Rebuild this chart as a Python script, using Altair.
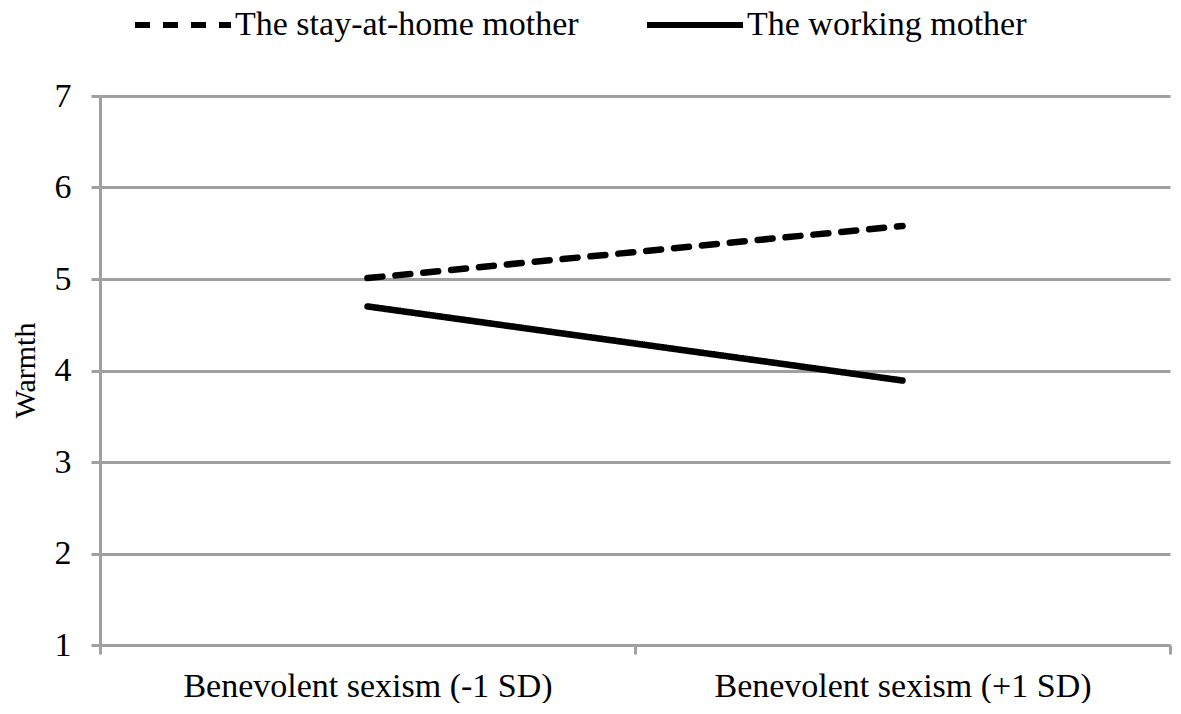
import altair as alt
import pandas as pd

categories = ["Benevolent sexism (-1 SD)", "Benevolent sexism (+1 SD)"]
series = ["The stay-at-home mother", "The working mother"]
stay_home = [5.01, 5.58]
working = [4.70, 3.89]
y_ticks = [1, 2, 3, 4, 5, 6, 7]

rows = []
for s, vals in zip(series, [stay_home, working]):
    for c, v in zip(categories, vals):
        rows.append({"series": s, "level": c, "value": v})
df = pd.DataFrame(rows)

FONT = "Liberation Serif"
GRAY = "#a0a0a0"

chart = alt.Chart(df).mark_line(color="black", strokeWidth=6.5, strokeCap="round").encode(
    x=alt.X("level:N", sort=categories,
            scale=alt.Scale(type="band", paddingInner=0, paddingOuter=0),
            axis=alt.Axis(title=None, tickBand="extent", grid=False, labelAngle=0,
                          labelFontSize=34, labelFont=FONT, labelColor="black", labelLimit=600,
                          labelPadding=15, tickSize=9, tickWidth=3, tickColor=GRAY,
                          domainColor=GRAY, domainWidth=3)),
    y=alt.Y("value:Q",
            scale=alt.Scale(domain=[1, 7], nice=False, zero=False),
            axis=alt.Axis(title="Warmth", values=y_ticks, format="d", grid=True,
                          gridColor=GRAY, gridWidth=3, domainColor=GRAY, domainWidth=3,
                          tickSize=9, tickWidth=3, tickColor=GRAY,
                          labelFontSize=34, labelFont=FONT, labelColor="black", labelPadding=20,
                          titleFont=FONT, titleFontSize=30, titleFontWeight="normal",
                          titleColor="black", titleX=-75, titleY=274, titleAngle=-90,
                          titleAlign="center", titleBaseline="middle")),
    strokeDash=alt.StrokeDash("series:N", sort=series,
                              scale=alt.Scale(domain=series, range=[[15, 13], [1, 0]]),
                              legend=alt.Legend(title=None, orient="none", direction="horizontal",
                                                legendX=64, legendY=-90, padding=0,
                                                symbolType="M-3,0H3", symbolSize=1024,
                                                symbolStrokeWidth=6, symbolStrokeColor="black",
                                                labelFont=FONT, labelFontSize=34, labelColor="black",
                                                labelOffset=33, columnPadding=56, labelLimit=600)),
).properties(
    width=1070, height=549,
    autosize=alt.AutoSizeParams(type="none"),
    padding={"left": 92, "top": 88, "right": 3, "bottom": 58},
).configure_view(stroke=None)

chart.save("out.html", embed_options={"renderer": "svg", "actions": False})
